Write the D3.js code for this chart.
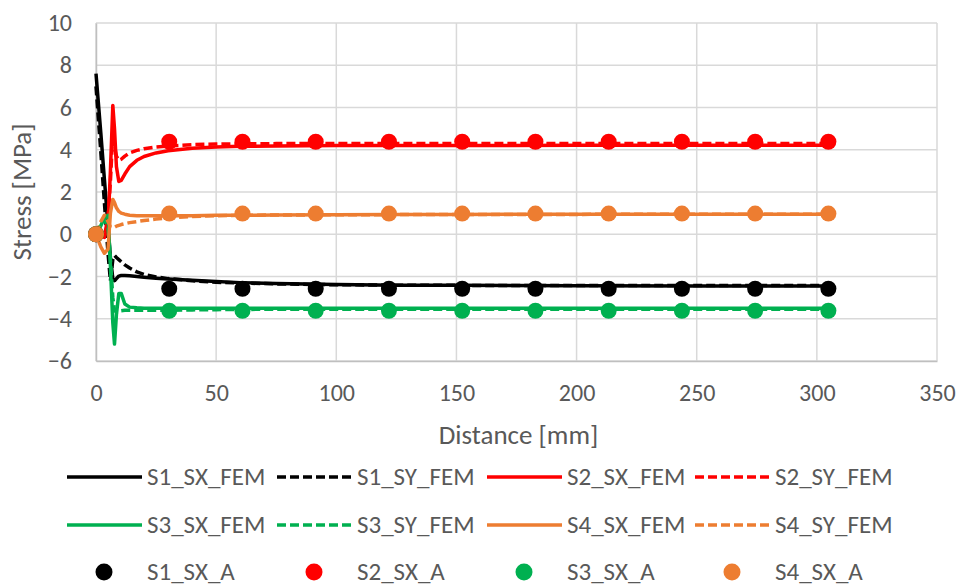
<!DOCTYPE html>
<meta charset="utf-8">
<script src="https://d3js.org/d3.v7.min.js"></script>
<style>
  body { margin: 0; background: #fff; }
  text { font-family: Carlito, Calibri, "Liberation Sans Narrow", "Open Sans", sans-serif; fill: #595959; }
</style>
<div id="chart"></div>
<script>

// FEM distances (mm)
var femX = [0, 2, 3.5, 5, 6, 7, 7.7, 8.5, 9.5, 10.5, 12, 14, 17, 20, 25, 30, 40, 50, 60, 75, 100, 125, 150, 200, 250, 305];

var s1SX = [7.6, 4.8, 2.6, 0.4, -1.1, -2.1, -2.2, -2.1, -1.98, -1.95, -1.95, -1.97, -2.0, -2.03, -2.08, -2.12, -2.18, -2.24, -2.29, -2.33, -2.38, -2.41, -2.42, -2.44, -2.45, -2.45];
var s1SY = [7.0, 3.9, 1.5, -0.9, -2.2, -1.2, -1.0, -1.1, -1.2, -1.3, -1.45, -1.6, -1.78, -1.9, -2.02, -2.1, -2.2, -2.27, -2.31, -2.35, -2.39, -2.41, -2.42, -2.43, -2.43, -2.43];
var s2SX = [0, -0.1, -0.15, 0.4, 3.0, 6.1, 5.0, 3.2, 2.5, 2.55, 2.85, 3.2, 3.5, 3.68, 3.85, 3.95, 4.07, 4.13, 4.16, 4.18, 4.2, 4.2, 4.2, 4.21, 4.21, 4.21];
var s2SY = [0, -0.1, -0.1, 0.8, 2.5, 4.8, 4.2, 3.7, 3.5, 3.55, 3.7, 3.85, 3.97, 4.05, 4.13, 4.18, 4.24, 4.27, 4.28, 4.29, 4.3, 4.3, 4.3, 4.3, 4.3, 4.3];
var s3SX = [0, 0.4, 0.8, 0.9, -1.5, -4.2, -5.2, -3.8, -2.8, -2.8, -3.3, -3.45, -3.48, -3.5, -3.5, -3.5, -3.5, -3.5, -3.5, -3.5, -3.5, -3.5, -3.5, -3.5, -3.5, -3.5];
var s3SY = [0, 0.5, 0.7, 0.3, -1.2, -3.0, -3.6, -3.7, -3.65, -3.62, -3.6, -3.6, -3.6, -3.6, -3.6, -3.6, -3.58, -3.57, -3.56, -3.55, -3.55, -3.55, -3.55, -3.55, -3.55, -3.55];
var s4SX = [0, -0.6, -0.9, -0.7, 1.0, 1.65, 1.5, 1.25, 1.08, 1.0, 0.95, 0.9, 0.88, 0.87, 0.87, 0.87, 0.88, 0.9, 0.9, 0.91, 0.92, 0.93, 0.94, 0.95, 0.95, 0.95];
var s4SY = [0, 0.6, 0.9, 0.6, 0.35, 0.3, 0.33, 0.38, 0.42, 0.46, 0.5, 0.55, 0.6, 0.65, 0.72, 0.77, 0.84, 0.88, 0.9, 0.91, 0.92, 0.93, 0.94, 0.94, 0.95, 0.95];

// analytical points
var aX = [0, 30.48, 60.96, 91.44, 121.92, 152.4, 182.88, 213.36, 243.84, 274.32, 304.8];
var s1A = [0, -2.58, -2.58, -2.58, -2.58, -2.58, -2.58, -2.58, -2.58, -2.58, -2.58];
var s2A = [0, 4.38, 4.38, 4.38, 4.38, 4.38, 4.38, 4.38, 4.38, 4.38, 4.38];
var s3A = [0, -3.62, -3.62, -3.62, -3.62, -3.62, -3.62, -3.62, -3.62, -3.62, -3.62];
var s4A = [0, 0.98, 0.98, 0.98, 0.98, 0.98, 0.98, 0.98, 0.98, 0.98, 0.98];

var xTicks = [0, 50, 100, 150, 200, 250, 300, 350];
var yTicks = [-6, -4, -2, 0, 2, 4, 6, 8, 10];

var lineSeries = [
  {name: "S1_SX_FEM", values: s1SX, color: "#000000", dash: null},
  {name: "S1_SY_FEM", values: s1SY, color: "#000000", dash: "9,4"},
  {name: "S2_SX_FEM", values: s2SX, color: "#ff0000", dash: null},
  {name: "S2_SY_FEM", values: s2SY, color: "#ff0000", dash: "9,4"},
  {name: "S3_SX_FEM", values: s3SX, color: "#00b050", dash: null},
  {name: "S3_SY_FEM", values: s3SY, color: "#00b050", dash: "9,4"},
  {name: "S4_SX_FEM", values: s4SX, color: "#ed7d31", dash: null},
  {name: "S4_SY_FEM", values: s4SY, color: "#ed7d31", dash: "9,4"}
];
var pointSeries = [
  {name: "S1_SX_A", values: s1A, color: "#000000"},
  {name: "S2_SX_A", values: s2A, color: "#ff0000"},
  {name: "S3_SX_A", values: s3A, color: "#00b050"},
  {name: "S4_SX_A", values: s4A, color: "#ed7d31"}
];

var W = 976, H = 586;
var margin = {top: 23, right: 39, bottom: 225, left: 96},
    width = W - margin.left - margin.right,
    height = H - margin.top - margin.bottom;

var svg = d3.select("#chart").append("svg")
    .attr("width", W).attr("height", H)
  .append("g")
    .attr("transform", "translate(" + margin.left + "," + margin.top + ")");

var x = d3.scaleLinear().domain([0, 350]).range([0, width]);
var y = d3.scaleLinear().domain([-6, 10]).range([height, 0]);

// gridlines
svg.append("g").selectAll("line.h").data(yTicks).enter().append("line")
    .attr("x1", 0).attr("x2", width)
    .attr("y1", function(d) { return y(d); }).attr("y2", function(d) { return y(d); })
    .attr("stroke", "#d9d9d9").attr("stroke-width", 1.5);
svg.append("g").selectAll("line.v").data(xTicks).enter().append("line")
    .attr("y1", 0).attr("y2", height)
    .attr("x1", function(d) { return x(d); }).attr("x2", function(d) { return x(d); })
    .attr("stroke", "#d9d9d9").attr("stroke-width", 1.5);

// axes
var xAxis = svg.append("g")
    .attr("transform", "translate(0," + height + ")")
    .call(d3.axisBottom(x).tickValues(xTicks).tickSize(0).tickPadding(23));
var yAxis = svg.append("g")
    .call(d3.axisLeft(y).tickValues(yTicks).tickSize(0).tickPadding(24));
[xAxis, yAxis].forEach(function(a) {
  a.select(".domain").attr("stroke", "#bfbfbf").attr("stroke-width", 1.5);
  a.selectAll("text").style("font-size", "24px").attr("fill", "#595959")
    .style("font-family", "Carlito, Calibri, 'Liberation Sans Narrow', 'Open Sans', sans-serif");
});

// axis titles
svg.append("text")
    .attr("x", width / 2 + 2).attr("y", height + 83)
    .attr("text-anchor", "middle").style("font-size", "27px")
    .text("Distance [mm]");
svg.append("text")
    .attr("transform", "translate(" + (-65) + "," + (height / 2) + ")rotate(-90)")
    .attr("text-anchor", "middle").style("font-size", "27px")
    .text("Stress [MPa]");

// FEM lines
var line = d3.line()
    .x(function(d, i) { return x(femX[i]); })
    .y(function(d) { return y(d); });

svg.selectAll(".fem").data(lineSeries).enter().append("path")
    .attr("class", "fem")
    .attr("d", function(s) { return line(s.values); })
    .attr("fill", "none")
    .attr("stroke", function(s) { return s.color; })
    .attr("stroke-width", 3.5)
    .attr("stroke-linejoin", "round")
    .attr("stroke-dasharray", function(s) { return s.dash; });

// analytical markers
pointSeries.forEach(function(s) {
  svg.append("g").selectAll("circle").data(s.values).enter().append("circle")
      .attr("cx", function(d, i) { return x(aX[i]); })
      .attr("cy", function(d) { return y(d); })
      .attr("r", 8)
      .attr("fill", s.color);
});

// legend
var legend = d3.select("svg").append("g");
var colX = [67, 277, 487, 695];
var rowY = [477, 525, 572];
lineSeries.forEach(function(s, i) {
  var cx = colX[i % 4], cy = rowY[Math.floor(i / 4)];
  legend.append("line")
      .attr("x1", cx).attr("x2", cx + 75).attr("y1", cy).attr("y2", cy)
      .attr("stroke", s.color).attr("stroke-width", 3.5)
      .attr("stroke-dasharray", s.dash);
  legend.append("text")
      .attr("x", cx + 80).attr("y", cy + 8)
      .style("font-size", "25px")
      .text(s.name);
});
pointSeries.forEach(function(s, i) {
  var cx = colX[i] + 37, cy = rowY[2];
  legend.append("circle")
      .attr("cx", cx).attr("cy", cy).attr("r", 8.5)
      .attr("fill", s.color);
  legend.append("text")
      .attr("x", colX[i] + 80).attr("y", cy + 8)
      .style("font-size", "25px")
      .text(s.name);
});

</script>
